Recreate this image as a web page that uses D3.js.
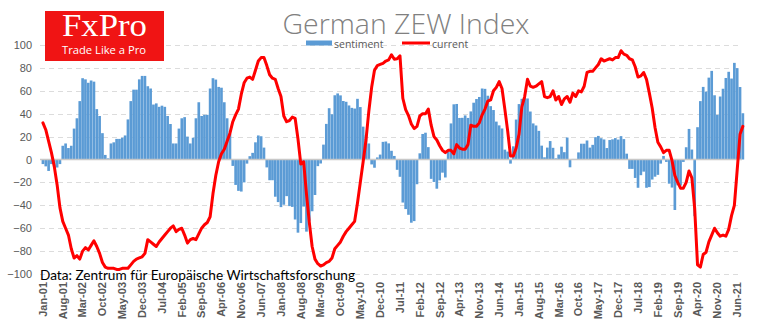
<!DOCTYPE html>
<html>
<head>
<meta charset="utf-8">
<script src="https://cdn.jsdelivr.net/npm/d3@7"></script>
<style>
  body { margin: 0; background: #fff; }
  svg { display: block; }
</style>
</head>
<body>
<div id="chart"></div>
<script>
// ZEW economic sentiment (bars), Jan-01 .. Aug-21
var sentiment = [
  -4, -6, -10, -4, -7, -7, -4, 12, 14, 10, 12, 27,
  36, 51, 71, 70, 67, 69, 68, 44, 38, 23, 4, 1,
  14, 15, 18, 18, 19, 21, 35, 51, 61, 61, 70, 73,
  73, 64, 62, 48, 49, 46, 47, 46, 38, 31, 14, 14,
  27, 36, 37, 20, 14, 19, 36, 50, 38, 39, 39, 62,
  71.0, 69.8, 63.4, 62.7, 50.0, 36.0, 22.5, -5.6, -22.2, -27.4, -28, -20,
  -3.6, 2.9, 5.8, 15.0, 21.0, 20.3, 10.4, -6.9, -18.1, -18.1, -32.5, -37.2,
  -41.6, -39.5, -32.0, -40.7, -41.4, -52.4, -63.9, -55.5, -41.1, -63.0, -53.5, -45.2,
  -31.0, -5.8, -3.5, 13.0, 31.1, 44.8, 39.5, 56.1, 57.7, 56.0, 51.1, 50.4,
  47.2, 45.1, 44.5, 53.0, 45.8, 28.7, 21.2, 14.0, -4.3, -7.2, 1.8, 4.3,
  15.4, 15.7, 14.1, 7.6, 3.1, -9.0, -15.1, -37.6, -43.3, -48.3, -55.2, -53.8,
  -21.6, 5.4, 22.3, 23.4, 10.8, -16.9, -19.6, -25.5, -18.2, -11.5, -15.7, 6.9,
  31.5, 48.2, 48.5, 36.3, 36.4, 38.5, 36.3, 42.0, 49.6, 52.8, 54.6, 62.0,
  61.7, 55.7, 46.6, 43.2, 33.1, 29.8, 27.1, 8.6, 6.9, -3.6, 11.5, 34.9,
  48.4, 53.0, 54.8, 53.3, 41.9, 31.5, 29.7, 25.0, 12.1, 1.9, 10.4, 16.1,
  10.2, 1.0, 4.3, 11.2, 6.4, 19.2, -6.8, 0.5, 0.5, 6.2, 13.8, 13.8,
  16.6, 10.4, 12.8, 19.5, 20.6, 18.6, 17.5, 10.0, 17.0, 17.6, 18.7, 17.4,
  20.4, 17.8, 5.1, -8.2, -8.2, -16.1, -24.7, -13.7, -10.6, -24.7, -24.1, -17.5,
  -15.0, -13.4, -3.6, 3.1, -2.1, -21.1, -24.5, -44.1, -22.5, -22.8, -2.1, 10.7,
  26.7, 8.7, -49.5, 28.2, 51.0, 63.4, 59.3, 71.5, 77.4, 56.1, 39.0, 55.0,
  61.8, 71.2, 76.6, 70.7, 84.4, 79.8, 63.3, 40.4
];

// ZEW current situation (red line)
var current = [
  32, 26, 16, 6, -6, -22, -42, -54, -60, -66, -78, -86,
  -84, -87, -80, -77, -79, -75, -71, -76, -82, -90, -94, -95,
  -95, -95, -96, -96, -95, -95, -95, -92, -89, -87, -86, -85,
  -82, -70, -72, -74, -76, -72, -69, -66, -63, -60, -58, -63,
  -61, -60, -66, -73, -70, -69, -70, -65, -60, -57, -55, -50,
  -30, -14, -2, 5, 9, 16, 23, 33, 39, 44, 57, 67,
  71, 72, 70, 78, 86, 89, 89, 82, 74, 71, 70, 62,
  55, 38, 33, 34, 37, 36, 18, -4, -2, -30, -55, -76,
  -87, -91, -93, -92, -90, -89, -86, -78, -75, -72, -67, -63,
  -60, -57, -54, -38, -20, -2, 17, 42, 63, 78, 82, 83,
  84, 86, 87, 91.5, 87.6, 88, 90.5, 53.5, 43.6, 38.4, 31, 27,
  29, 38, 40, 40, 44, 30, 20, 17, 12, 8, 6, 8,
  8, 5, 13, 10, 9, 9, 13, 30, 29, 29, 32, 39,
  44, 51, 52, 60, 63, 68, 62, 44, 25, 3, 3, 10,
  22, 46, 55, 70, 64, 63, 64, 66, 68, 55, 54, 55,
  60, 52, 55, 48, 53, 55, 50, 58, 55, 60, 59, 64,
  76, 77, 77, 80, 83, 88, 86, 87, 88, 87, 89, 89,
  95, 92, 91, 88, 87, 81, 72, 73, 76, 70, 58, 45,
  28, 15, 11, 6, 8, 8, -1, -14, -20, -25, -25, -20,
  -10, -16, -43, -92, -94, -83, -81, -72, -66, -60, -64, -67,
  -66, -67, -61, -49, -40, -9, 22, 29
];

var yTicks = [-100, -80, -60, -40, -20, 0, 20, 40, 60, 80, 100];
var labelEvery = 7;

var fmt = d3.timeFormat("%b-%y");
var months = d3.timeMonth.range(new Date(2001, 0, 1), new Date(2001, sentiment.length, 1)).map(fmt);
var tickMonths = months.filter((m, i) => i % labelEvery === 0);

var svgWidth = 770;
var svgHeight = 330;
var plotLeft = 41.6;
var plotRight = 744.2;
var plotTop = 45;
var plotBottom = 274;

var svg = d3.select("#chart")
    .append("svg")
    .attr("width", svgWidth)
    .attr("height", svgHeight);

var x = d3.scaleBand()
    .domain(months)
    .range([plotLeft, plotRight])
    .paddingInner(0.06);

var y = d3.scaleLinear()
    .domain([-100, 100])
    .range([plotBottom, plotTop]);

// gridlines
svg.append("g")
    .selectAll("line")
    .data(yTicks.filter(t => t !== 0))
    .enter()
    .append("line")
    .attr("x1", 40)
    .attr("x2", 742)
    .attr("y1", d => Math.round(y(d)) + 0.5)
    .attr("y2", d => Math.round(y(d)) + 0.5)
    .attr("stroke", "#dcdcdc")
    .attr("stroke-dasharray", "5,4");

// y axis labels
var yAxis = svg.append("g")
    .attr("transform", "translate(40,0)")
    .call(d3.axisLeft(y).tickValues(yTicks).tickSize(0).tickPadding(8));
yAxis.select(".domain").remove();
yAxis.selectAll("text")
    .attr("font-family", "Liberation Sans, Arial, sans-serif")
    .attr("font-size", "11px")
    .attr("fill", "#595959");

// bars
svg.append("g")
    .selectAll("rect")
    .data(sentiment)
    .enter()
    .append("rect")
    .attr("x", (d, i) => x(months[i]))
    .attr("width", x.bandwidth())
    .attr("y", d => y(Math.max(0, d)))
    .attr("height", d => Math.abs(y(d) - y(0)))
    .attr("fill", "#5b9bd5");

// zero line
svg.append("line")
    .attr("x1", 40)
    .attr("x2", 742)
    .attr("y1", y(0))
    .attr("y2", y(0))
    .attr("stroke", "#c8c8c8")
    .attr("stroke-width", 1.5);

// current line
var line = d3.line()
    .x((d, i) => x(months[i]) + x.bandwidth() / 2)
    .y(d => y(d));

svg.append("path")
    .datum(current)
    .attr("d", line)
    .attr("fill", "none")
    .attr("stroke", "#ff0000")
    .attr("stroke-width", 3)
    .attr("stroke-linejoin", "round")
    .attr("stroke-linecap", "round");

// x axis labels
var xAxis = svg.append("g")
    .attr("transform", "translate(0,282)")
    .call(d3.axisBottom(x).tickValues(tickMonths).tickSize(0));
xAxis.select(".domain").remove();
xAxis.selectAll("text")
    .attr("transform", "rotate(-90)")
    .attr("x", 0)
    .attr("y", 0)
    .attr("dy", "0.35em")
    .attr("text-anchor", "end")
    .attr("font-family", "Liberation Sans, Arial, sans-serif")
    .attr("font-size", "11px")
    .attr("font-weight", "bold")
    .attr("fill", "#595959");

// title
svg.append("text")
    .attr("x", 406)
    .attr("y", 34)
    .attr("text-anchor", "middle")
    .attr("font-family", "Open Sans, sans-serif")
    .attr("font-weight", 300)
    .attr("font-size", "27px")
    .attr("textLength", 247)
    .attr("lengthAdjust", "spacingAndGlyphs")
    .attr("fill", "#808080")
    .text("German ZEW Index");

// legend
var legend = svg.append("g");
legend.append("rect")
    .attr("x", 306).attr("y", 40.5)
    .attr("width", 26).attr("height", 5)
    .attr("fill", "#5b9bd5");
legend.append("text")
    .attr("x", 334).attr("y", 47.5)
    .attr("font-family", "Open Sans, sans-serif")
    .attr("font-size", "10.5px")
    .attr("fill", "#595959")
    .text("sentiment");
legend.append("line")
    .attr("x1", 402).attr("x2", 430)
    .attr("y1", 43).attr("y2", 43)
    .attr("stroke", "#ff0000")
    .attr("stroke-width", 3);
legend.append("text")
    .attr("x", 432).attr("y", 47.5)
    .attr("font-family", "Open Sans, sans-serif")
    .attr("font-size", "10.5px")
    .attr("fill", "#595959")
    .text("current");

// logo
var logo = svg.append("g");
logo.append("rect")
    .attr("x", 45).attr("y", 11)
    .attr("width", 119).attr("height", 50)
    .attr("fill", "#f01414");
logo.append("text")
    .attr("x", 62).attr("y", 36)
    .attr("font-family", "Liberation Serif, DejaVu Serif, serif")
    .attr("font-size", "31px")
    .attr("textLength", 85)
    .attr("lengthAdjust", "spacingAndGlyphs")
    .attr("fill", "#fff")
    .text("FxPro");
logo.append("text")
    .attr("x", 62).attr("y", 54)
    .attr("font-family", "Open Sans, sans-serif")
    .attr("font-size", "11.5px")
    .attr("textLength", 84)
    .attr("lengthAdjust", "spacingAndGlyphs")
    .attr("fill", "#fff")
    .text("Trade Like a Pro");

// source note
svg.append("text")
    .attr("x", 40).attr("y", 280)
    .attr("font-family", "Lato, sans-serif")
    .attr("font-size", "13.5px")
    .attr("textLength", 315)
    .attr("lengthAdjust", "spacingAndGlyphs")
    .attr("fill", "#000")
    .text("Data: Zentrum für Europäische Wirtschaftsforschung");
</script>
</body>
</html>
